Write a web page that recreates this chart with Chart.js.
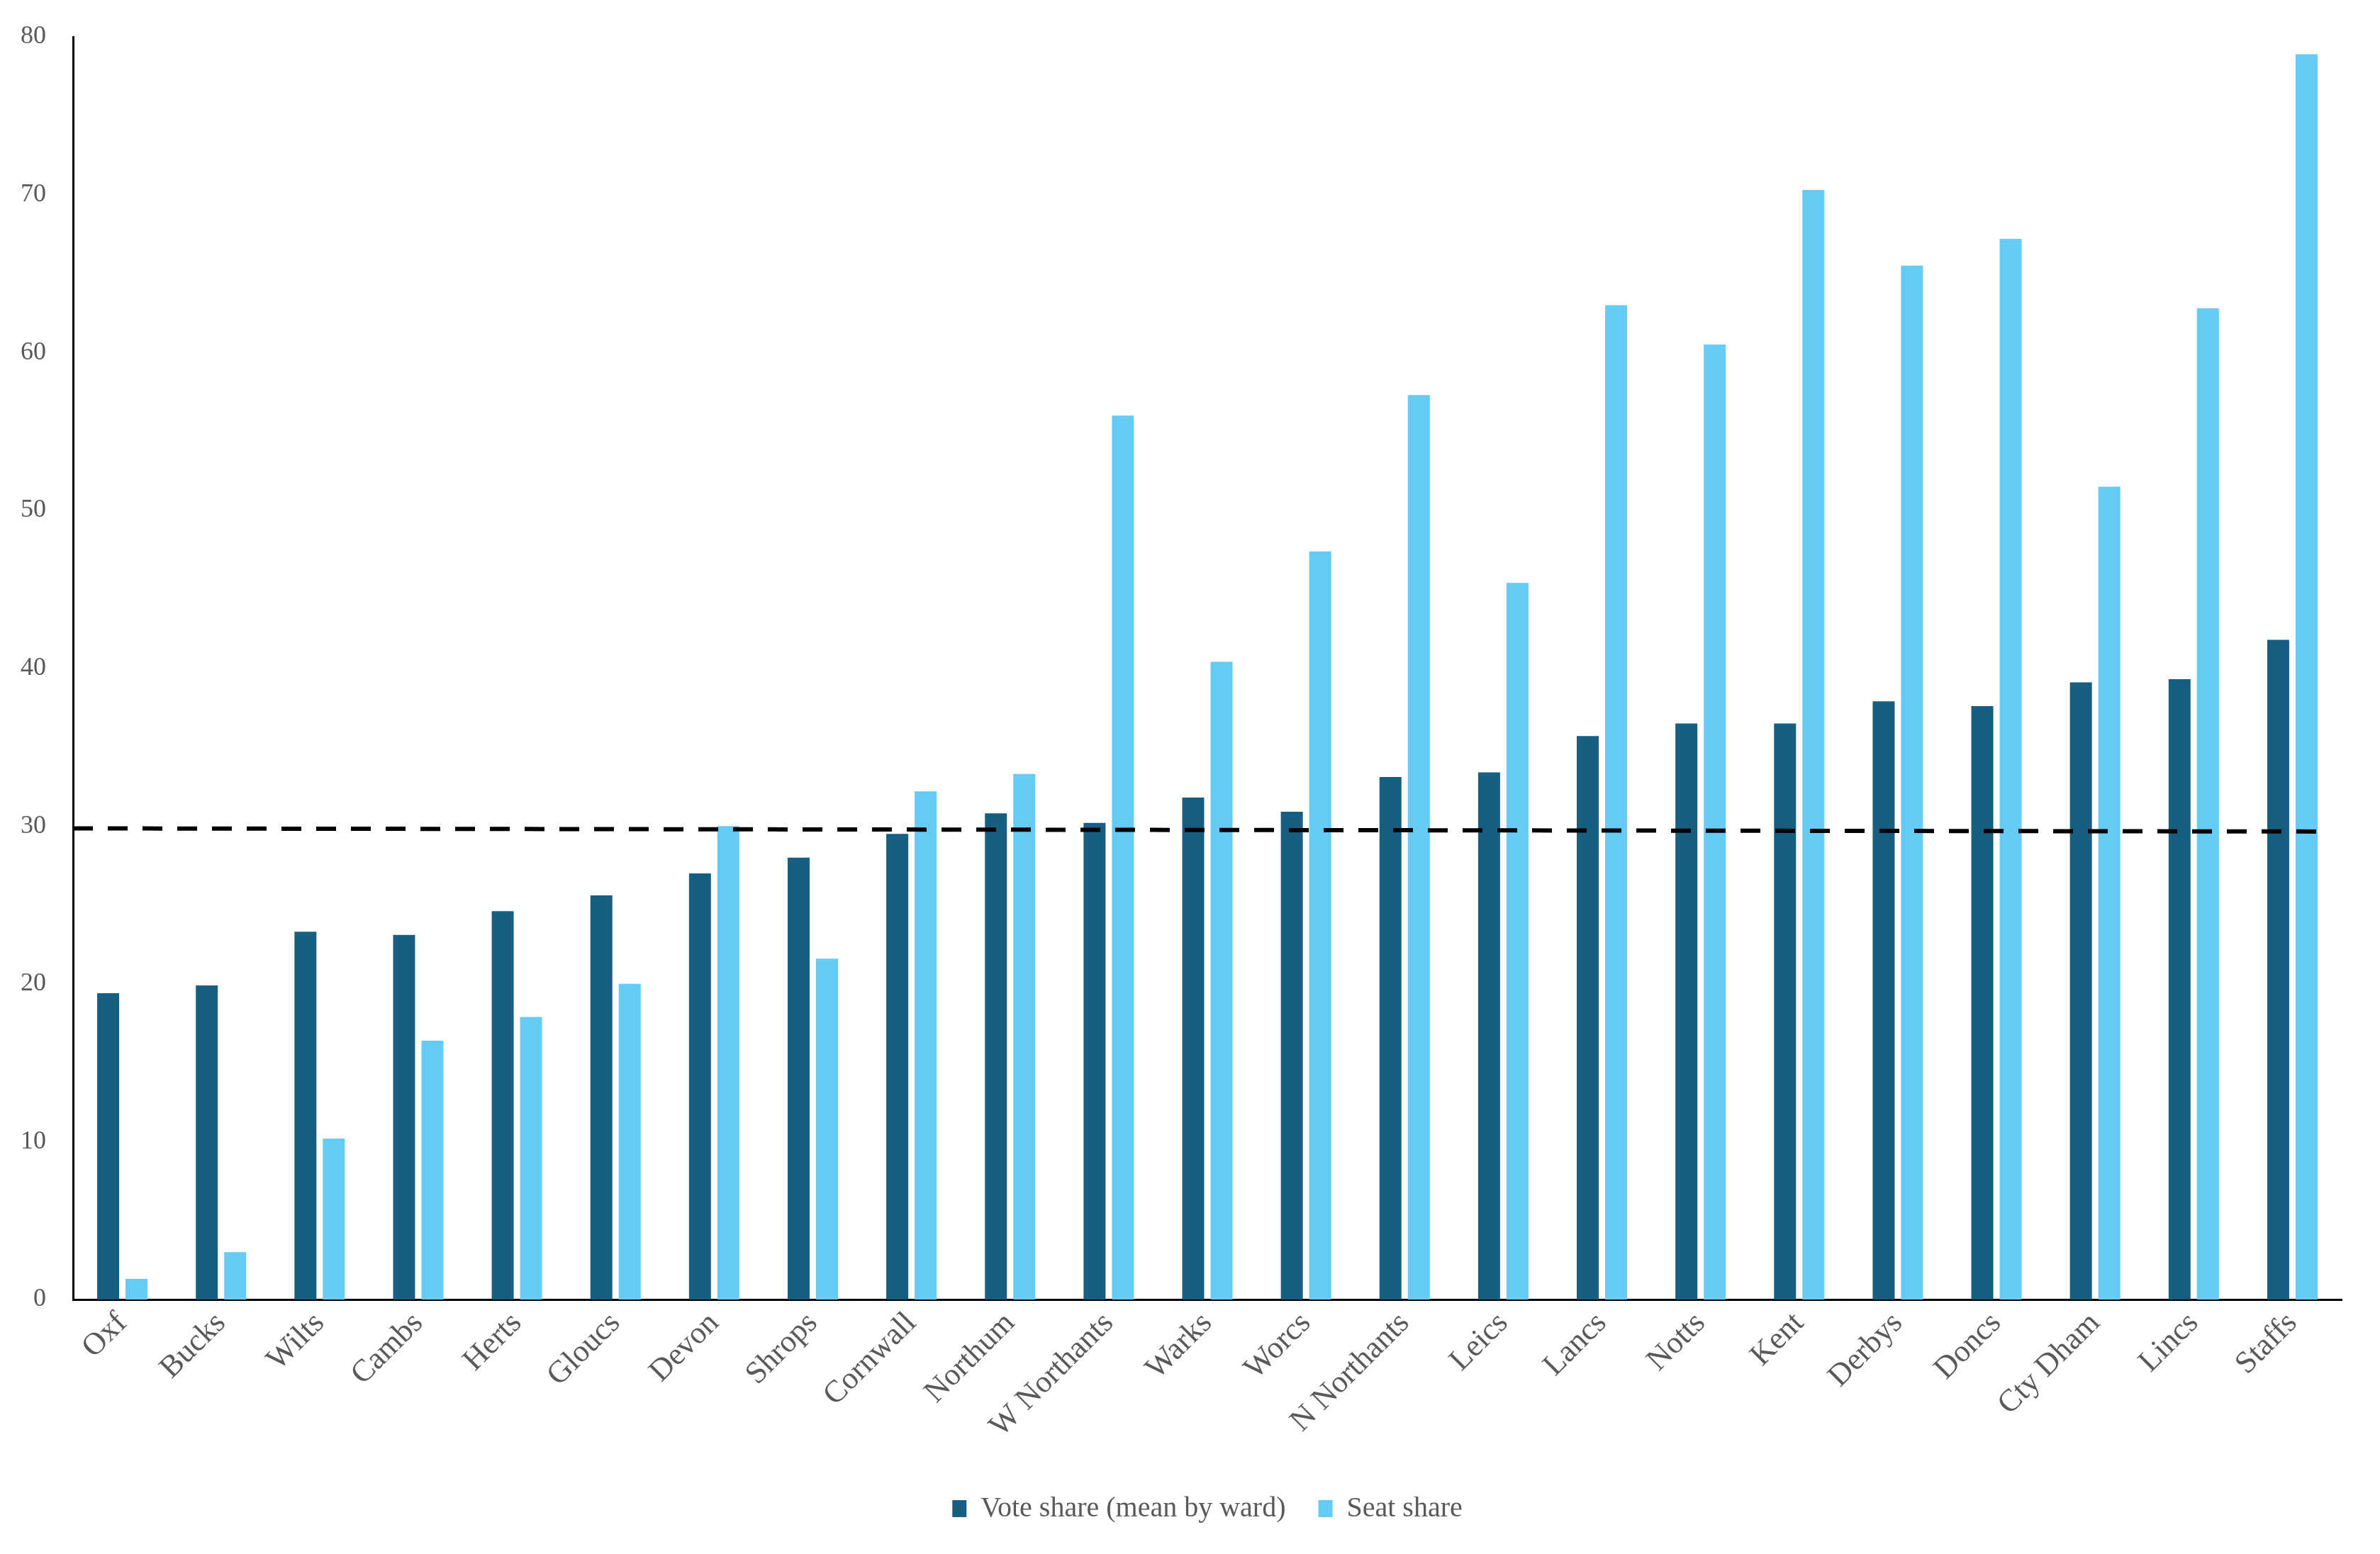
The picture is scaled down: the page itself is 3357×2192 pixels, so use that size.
<!DOCTYPE html>
<html>
<head>
<meta charset="utf-8">
<script src="https://cdn.jsdelivr.net/npm/chart.js@4.4.1/dist/chart.umd.min.js"></script>
<style>
  html, body { margin: 0; padding: 0; background: #fff; }
  canvas { display: block; }
</style>
</head>
<body>
<canvas id="myChart" width="3357" height="2192"></canvas>
<script>
const counties = ['Oxf', 'Bucks', 'Wilts', 'Cambs', 'Herts', 'Gloucs', 'Devon', 'Shrops', 'Cornwall',
  'Northum', 'W Northants', 'Warks', 'Worcs', 'N Northants', 'Leics', 'Lancs', 'Notts', 'Kent',
  'Derbys', 'Doncs', 'Cty Dham', 'Lincs', 'Staffs'];

const voteShare = [19.4, 19.9, 23.3, 23.1, 24.6, 25.6, 27.0, 28.0, 29.5,
  30.8, 30.2, 31.8, 30.9, 33.1, 33.4, 35.7, 36.5, 36.5,
  37.9, 37.6, 39.1, 39.3, 41.8];

const seatShare = [1.3, 3.0, 10.2, 16.4, 17.9, 20.0, 30.0, 21.6, 32.2,
  33.3, 56.0, 40.4, 47.4, 57.3, 45.4, 63.0, 60.5, 70.3,
  65.5, 67.2, 51.5, 62.8, 78.9];

const yTicks = [0, 10, 20, 30, 40, 50, 60, 70, 80];

// dashed reference line, ends given in category-index units
const refLineX = [-0.5, 22.26];
const refLineY = [29.85, 29.65];

Chart.defaults.font.family = "'Liberation Serif', 'Times New Roman', serif";
Chart.defaults.color = '#595959';

const ctx = document.getElementById('myChart');

const myChart = new Chart(ctx, {
  type: 'bar',
  data: {
    labels: counties,
    datasets: [
      {
        type: 'line',
        label: 'ref',
        data: refLineX.map((x, i) => ({ x: x, y: refLineY[i] })),
        xAxisID: 'x2',
        yAxisID: 'y',
        borderColor: '#000000',
        borderWidth: 6,
        borderDash: [28, 21],
        pointRadius: 0,
        fill: false,
        order: 0
      },
      {
        label: 'Vote share (mean by ward)',
        data: voteShare,
        xAxisID: 'x',
        yAxisID: 'y',
        backgroundColor: '#165f83',
        order: 1
      },
      {
        label: 'Seat share',
        data: seatShare,
        xAxisID: 'x',
        yAxisID: 'y',
        backgroundColor: '#63cbf4',
        order: 1
      }
    ]
  },
  options: {
    responsive: false,
    animation: false,
    layout: {
      padding: { top: 52, right: 54, bottom: 34, left: 0 }
    },
    datasets: {
      bar: {
        // this build gives each bar half the slot it should, so the percentage is doubled
        categoryPercentage: 1.15,
        barPercentage: 0.775
      }
    },
    plugins: {
      legend: {
        position: 'bottom',
        fullSize: false,
        labels: {
          filter: item => item.datasetIndex > 0,
          boxWidth: 20,
          boxHeight: 24,
          padding: 46,
          font: { size: 40 }
        }
      },
      tooltip: { enabled: false }
    },
    scales: {
      x: {
        position: 'bottom',
        grid: { display: false, drawTicks: false },
        border: { color: '#000000', width: 3 },
        ticks: {
          autoSkip: false,
          minRotation: 45,
          maxRotation: 45,
          padding: 8,
          font: { size: 44 }
        },
        afterFit: scale => { scale.height = 229; }
      },
      x2: {
        type: 'linear',
        position: 'bottom',
        offset: false,
        min: -0.5,
        max: 22.5,
        grid: { display: false, drawTicks: false },
        border: { display: false },
        ticks: { display: false },
        afterFit: scale => { scale.height = 0; }
      },
      y: {
        min: 0,
        max: 80,
        grid: { display: false, drawTicks: false },
        border: { color: '#000000', width: 3 },
        ticks: {
          padding: 38,
          font: { size: 36 }
        },
        afterBuildTicks: scale => { scale.ticks = yTicks.map(v => ({ value: v })); },
        afterFit: scale => {
          scale.width = 103;
          // label padding should not push the top of the plot down
          scale.paddingTop = 22;
        }
      }
    }
  }
});
</script>
</body>
</html>
